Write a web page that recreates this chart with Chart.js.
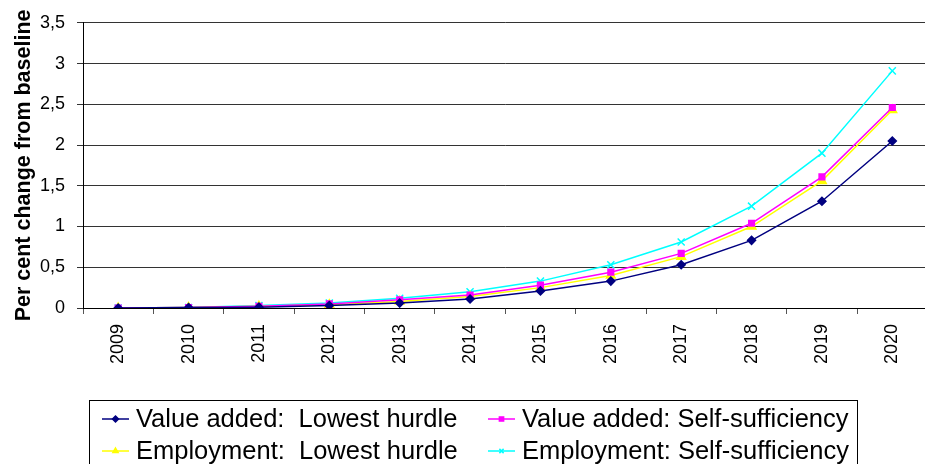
<!DOCTYPE html>
<html>
<head>
<meta charset="utf-8">
<script src="https://cdn.jsdelivr.net/npm/chart.js@4/dist/chart.umd.min.js"></script>
<style>
  html, body { margin: 0; padding: 0; background: #fff; overflow: hidden; }
  /* the plot runs past the right edge of the frame, so the canvas is a little wider than the frame */
  #wrap { width: 925px; height: 464px; overflow: hidden; }
  #c { display: block; }
</style>
</head>
<body>
<div id="wrap"><canvas id="c" width="934" height="464"></canvas></div>
<script>
const years = ['2009','2010','2011','2012','2013','2014','2015','2016','2017','2018','2019','2020'];
const valueAddedLowest = [0, 0.005, 0.01, 0.03, 0.06, 0.11, 0.21, 0.33, 0.53, 0.83, 1.31, 2.05];
const valueAddedSelf   = [0, 0.005, 0.02, 0.05, 0.10, 0.16, 0.28, 0.44, 0.67, 1.04, 1.61, 2.46];
const employmentLowest = [0, 0.005, 0.02, 0.04, 0.08, 0.14, 0.25, 0.40, 0.63, 1.00, 1.56, 2.43];
const employmentSelf   = [0, 0.006, 0.03, 0.06, 0.12, 0.20, 0.33, 0.53, 0.81, 1.25, 1.90, 2.91];
const yTicks = [0, 0.5, 1, 1.5, 2, 2.5, 3, 3.5];

const FONT = '"Liberation Sans", Arial, sans-serif';

const series = [
  { label: 'Value added:  Lowest hurdle', data: valueAddedLowest, color: '#000080', style: 'rectRot', r: 4 },
  { label: 'Value added: Self-sufficiency', data: valueAddedSelf, color: '#FF00FF', style: 'rect', r: 4 },
  { label: 'Employment:  Lowest hurdle', data: employmentLowest, color: '#FFFF00', style: 'triangle', r: 5 },
  { label: 'Employment: Self-sufficiency', data: employmentSelf, color: '#00FFFF', style: 'crossRot', r: 5 }
];

// Boxed two-column legend below the plot
const boxLegend = {
  id: 'boxLegend',
  afterDraw(chart) {
    const ctx = chart.ctx;
    ctx.save();
    ctx.strokeStyle = '#000';
    ctx.lineWidth = 1;
    ctx.strokeRect(89.5, 400.5, 768, 70);
    const cols = [102, 488];
    const rows = [419, 451];
    ctx.font = '25.5px ' + FONT;
    ctx.textBaseline = 'middle';
    series.forEach((s, k) => {
      const x = cols[k % 2], y = rows[Math.floor(k / 2)];
      ctx.strokeStyle = s.color;
      ctx.fillStyle = s.color;
      ctx.lineWidth = 1.5;
      ctx.beginPath();
      ctx.moveTo(x, y);
      ctx.lineTo(x + 27, y);
      ctx.stroke();
      Chart.helpers.drawPoint(ctx, { pointStyle: s.style, radius: 3, borderWidth: 1.5 }, x + 13.5, y);
      ctx.fillStyle = '#000';
      ctx.fillText(s.label, x + 34, y + 1);
    });
    ctx.restore();
  }
};

new Chart(document.getElementById('c'), {
  type: 'line',
  data: {
    labels: years,
    datasets: series.map(s => ({
      label: s.label,
      data: s.data,
      borderColor: s.color,
      backgroundColor: s.color,
      borderWidth: 1.5,
      pointStyle: s.style,
      pointRadius: s.r,
      pointBorderWidth: 1.5,
      pointBackgroundColor: s.color,
      pointBorderColor: s.color,
      tension: 0
    }))
  },
  options: {
    responsive: false,
    animation: false,
    layout: { padding: { top: 19, right: 0, left: 0, bottom: 0 } },
    plugins: { legend: { display: false }, tooltip: { enabled: false } },
    scales: {
      x: {
        offset: true,
        grid: {
          drawOnChartArea: false, drawTicks: true, tickLength: 6, offset: true,
          // no tick mark at the far right end of the axis
          color: c => (c.index >= years.length ? 'rgba(0,0,0,0)' : '#555')
        },
        border: { color: '#000', width: 1 },
        ticks: {
          minRotation: 90, maxRotation: 90, padding: 10,
          color: '#000',
          font: { family: FONT, size: 18 }
        },
        afterFit(scale) {
          scale.height = 156;
          scale.paddingLeft = 0;
          scale.paddingRight = 0;
        }
      },
      y: {
        min: 0, max: 3.5,
        afterBuildTicks(scale) { scale.ticks = yTicks.map(v => ({ value: v })); },
        grid: { color: '#333', lineWidth: 1, tickLength: 6 },
        border: { color: '#000', width: 1 },
        ticks: {
          color: '#000', padding: 12,
          font: { family: FONT, size: 18 },
          callback: v => String(v).replace('.', ',')
        },
        title: {
          display: true,
          text: 'Per cent change from baseline',
          color: '#000',
          padding: { top: 11, bottom: 0 },
          font: { family: FONT, size: 21.5, weight: 'bold' }
        },
        afterFit(scale) { scale.width = 83; }
      }
    }
  },
  plugins: [boxLegend]
});
</script>
</body>
</html>
